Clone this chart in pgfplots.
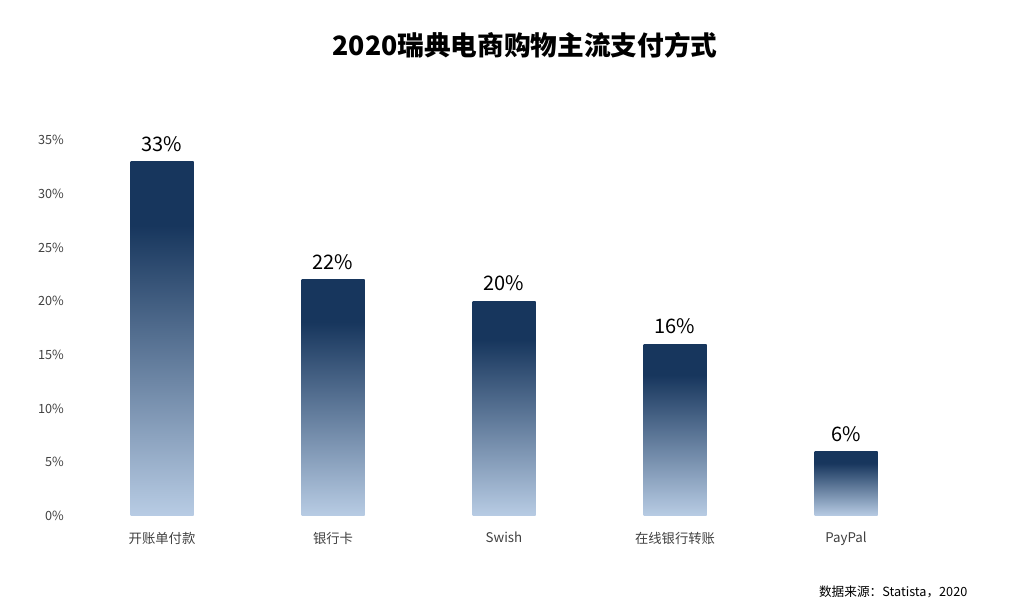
\documentclass[border=0pt]{standalone}
\usepackage{fontspec}
\usepackage{pgfplots}
\pgfplotsset{compat=1.18}
\setmainfont{Noto Sans CJK SC}
\definecolor{darkbar}{HTML}{17365D}
\definecolor{lightbar}{HTML}{B8CCE4}
\definecolor{ticktext}{HTML}{404040}
\pgfdeclareverticalshading{barshade}{100bp}{color(0bp)=(lightbar); color(25bp)=(lightbar); color(66bp)=(darkbar); color(75bp)=(darkbar); color(100bp)=(darkbar)}
\begin{document}
\begin{tikzpicture}
\useasboundingbox (0pt,0pt) rectangle (757.5pt,457.5pt);
\node[font=\bfseries\fontsize{20}{24}\selectfont] at (393.75pt,423.75pt) {2020瑞典电商购物主流支付方式};
\node[anchor=east,font=\fontsize{9.5}{11}\selectfont] at (729pt,13.5pt) {数据来源：Statista，2020};
\begin{axis}[
  at={(57.375pt,70.5pt)}, anchor=south west,
  scale only axis,
  width=641.25pt, height=282pt,
  xmin=-0.5, xmax=4.5, ymin=0, ymax=35,
  axis line style={draw=none},
  major tick length=0pt,
  ytick={0,5,...,35},
  yticklabels={0\%,5\%,10\%,15\%,20\%,25\%,30\%,35\%},
  yticklabel style={font=\fontsize{9.5}{11}\selectfont, text=ticktext, xshift=-6pt},
  xtick={0,1,2,3,4},
  xticklabels={开账单付款,银行卡,Swish,在线银行转账,PayPal},
  xticklabel style={font=\fontsize{10}{12}\selectfont, text=ticktext, yshift=-8.5pt},
  clip=false,
  nodes near coords={\pgfmathprintnumber{\pgfplotspointmeta}\%},
  nodes near coords style={font=\fontsize{15}{18}\selectfont, text=black, anchor=south, yshift=4pt, /pgf/number format/assume math mode=true},
]
\addplot[ybar, bar width=47.25pt, bar shift=0pt, draw=none, shading=barshade] coordinates {(0,33)};
\addplot[ybar, bar width=47.25pt, bar shift=0pt, draw=none, shading=barshade] coordinates {(1,22)};
\addplot[ybar, bar width=47.25pt, bar shift=0pt, draw=none, shading=barshade] coordinates {(2,20)};
\addplot[ybar, bar width=47.25pt, bar shift=0pt, draw=none, shading=barshade] coordinates {(3,16)};
\addplot[ybar, bar width=47.25pt, bar shift=0pt, draw=none, shading=barshade] coordinates {(4,6)};
\end{axis}
\end{tikzpicture}
\end{document}
